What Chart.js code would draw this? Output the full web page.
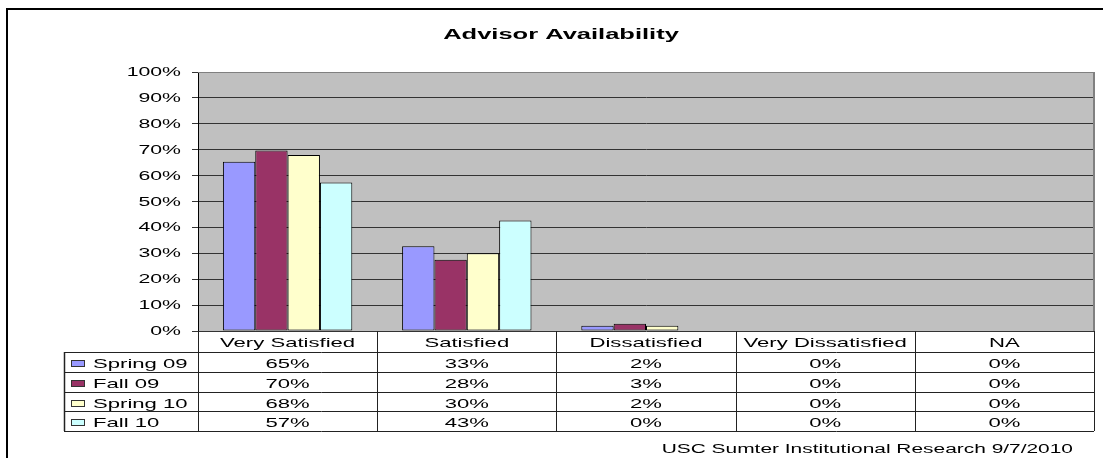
<!DOCTYPE html>
<html>
<head>
<meta charset="utf-8">
<script src="https://cdn.jsdelivr.net/npm/chart.js@4"></script>
<style>
  html, body { margin: 0; padding: 0; background: #fff; }
  canvas { display: block; }
</style>
</head>
<body>
<canvas id="chart" width="1103" height="458"></canvas>
<script>
const chartTitle = 'Advisor Availability';
const footerText = 'USC Sumter Institutional Research 9/7/2010';
const categories = ['Very Satisfied', 'Satisfied', 'Dissatisfied', 'Very Dissatisfied', 'NA'];
const seriesNames = ['Spring 09', 'Fall 09', 'Spring 10', 'Fall 10'];
const spring09 = [65.3, 32.7, 2.0, 0, 0];
const fall09 = [69.7, 27.5, 2.8, 0, 0];
const spring10 = [68.0, 30.0, 2.0, 0, 0];
const fall10 = [57.3, 42.7, 0, 0, 0];
const seriesValues = [spring09, fall09, spring10, fall10];
const seriesColors = ['#9999FF', '#993366', '#FFFFCC', '#CCFFFF'];

const FONT = "'Liberation Sans', Arial, sans-serif";
const SX = 1.7; // the original text is rendered wide

// draw text stretched horizontally
function wideText(ctx, str, x, y, align, font) {
  ctx.save();
  ctx.font = font;
  ctx.fillStyle = '#000';
  ctx.textAlign = 'left';
  ctx.textBaseline = 'alphabetic';
  const w = ctx.measureText(str).width * SX;
  let left = x;
  if (align === 'center') left = x - w / 2;
  else if (align === 'right') left = x - w;
  ctx.translate(left, y);
  ctx.scale(SX, 1);
  ctx.fillText(str, 0, 0);
  ctx.restore();
}

function line(ctx, x1, y1, x2, y2) {
  ctx.beginPath();
  ctx.moveTo(x1, y1);
  ctx.lineTo(x2, y2);
  ctx.stroke();
}

const excelLook = {
  id: 'excelLook',
  beforeDraw(chart) {
    const { ctx, chartArea: a } = chart;
    ctx.save();
    ctx.fillStyle = '#fff';
    ctx.fillRect(0, 0, chart.width, chart.height);
    ctx.strokeStyle = '#000';
    ctx.lineWidth = 2;
    ctx.beginPath();
    ctx.moveTo(7, chart.height + 5);
    ctx.lineTo(7, 9);
    ctx.lineTo(chart.width + 5, 9);
    ctx.stroke();
    ctx.fillStyle = '#C0C0C0';
    ctx.fillRect(a.left, a.top, a.right - a.left, a.bottom - a.top);
    ctx.restore();
  },
  afterDatasetsDraw(chart) {
    const { ctx, chartArea: a } = chart;
    ctx.save();
    ctx.strokeStyle = '#808080';
    ctx.lineWidth = 1;
    line(ctx, a.left, a.top + 0.5, a.right, a.top + 0.5);
    ctx.lineWidth = 2;
    line(ctx, a.right, a.top, a.right, a.bottom);
    ctx.restore();
  },
  afterDraw(chart) {
    const { ctx, chartArea: a } = chart;
    const xs = chart.scales.x;
    const ys = chart.scales.y;

    wideText(ctx, chartTitle, 561, 39, 'center', 'bold 15px ' + FONT);

    ys.ticks.forEach((t) => {
      wideText(ctx, t.value + '%', 181, ys.getPixelForValue(t.value) + 4, 'right', '12.5px ' + FONT);
    });

    // data table
    const colW = xs.width / categories.length;
    const tableLeft = 64;
    const headTop = a.bottom;
    const headBottom = headTop + 21;
    const rowH = 19.75;
    const tableBottom = headBottom + rowH * seriesNames.length;

    ctx.save();
    ctx.strokeStyle = '#222';
    ctx.lineWidth = 1;
    for (let i = 0; i <= categories.length; i++) {
      const x = Math.round(xs.getPixelForValue(0) - colW / 2 + i * colW) + 0.5;
      line(ctx, x, headTop, x, tableBottom);
    }
    line(ctx, tableLeft, Math.round(headBottom) + 0.5, a.right, Math.round(headBottom) + 0.5);
    for (let r = 1; r <= seriesNames.length; r++) {
      const y = Math.round(headBottom + r * rowH) + 0.5;
      line(ctx, tableLeft, y, a.right, y);
    }
    ctx.lineWidth = 1.5;
    line(ctx, tableLeft + 0.5, headBottom, tableLeft + 0.5, tableBottom);
    ctx.restore();

    categories.forEach((c, i) => {
      wideText(ctx, c, xs.getPixelForValue(i), headTop + 16, 'center', '13px ' + FONT);
    });

    seriesNames.forEach((name, r) => {
      const top = headBottom + r * rowH;
      ctx.save();
      ctx.fillStyle = seriesColors[r];
      ctx.strokeStyle = '#333';
      ctx.lineWidth = 1;
      ctx.fillRect(71, Math.round(top + 8), 14, 7);
      ctx.strokeRect(71.5, Math.round(top + 8) + 0.5, 13, 6);
      ctx.restore();
      wideText(ctx, name, 93, top + 16, 'left', '13px ' + FONT);
      seriesValues[r].forEach((v, i) => {
        wideText(ctx, Math.round(v) + '%', xs.getPixelForValue(i), top + 16, 'center', '13px ' + FONT);
      });
    });

    wideText(ctx, footerText, 1073, 453, 'right', '12.3px ' + FONT);
  }
};

new Chart(document.getElementById('chart').getContext('2d'), {
  type: 'bar',
  data: {
    labels: categories,
    datasets: seriesNames.map((name, i) => ({
      label: name,
      data: seriesValues[i],
      backgroundColor: seriesColors[i],
      borderColor: '#000',
      borderWidth: 1,
      borderSkipped: false,
      categoryPercentage: 0.722,
      barPercentage: 1.0
    }))
  },
  options: {
    responsive: false,
    animation: false,
    layout: { padding: { top: 72, right: 9, bottom: 127, left: 0 } },
    plugins: {
      legend: { display: false },
      title: { display: false },
      tooltip: { enabled: false }
    },
    scales: {
      x: { display: false },
      y: {
        min: 0,
        max: 100,
        ticks: { stepSize: 10, display: false },
        grid: { color: '#333', lineWidth: 1, drawTicks: true, tickLength: 6 },
        border: { display: true, color: '#000', width: 1 },
        afterFit: (s) => { s.width = 198; }
      }
    }
  },
  plugins: [excelLook]
});
</script>
</body>
</html>
